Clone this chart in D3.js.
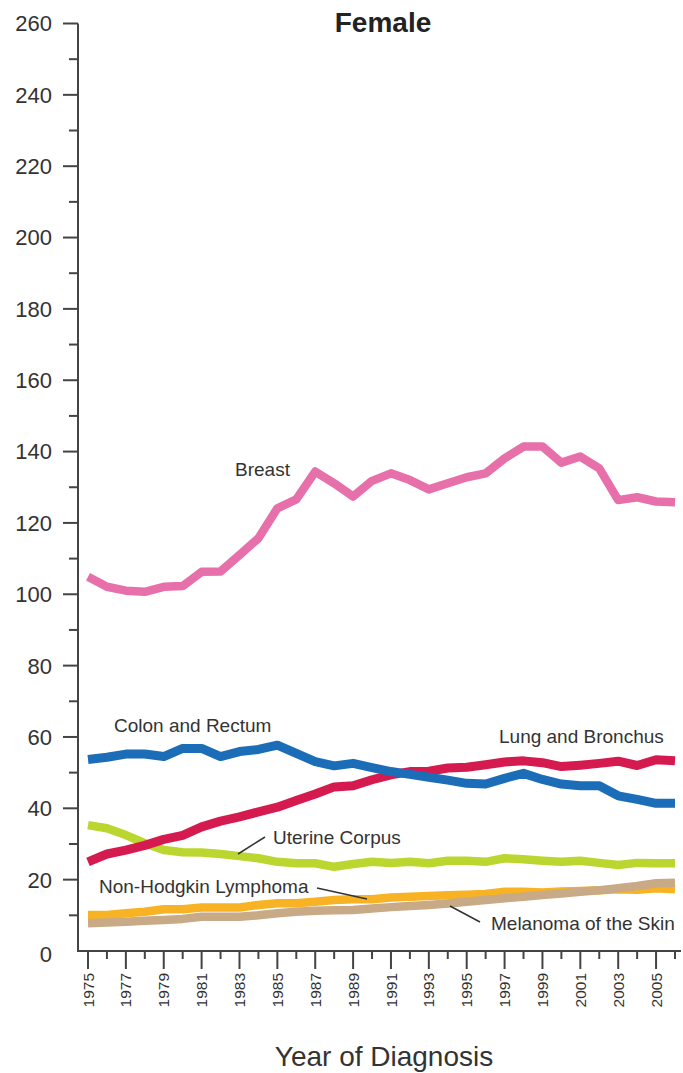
<!DOCTYPE html>
<html>
<head>
<meta charset="utf-8">
<script src="https://cdn.jsdelivr.net/npm/d3@7"></script>
<style>
  html, body { margin: 0; padding: 0; background: #fff; }
  svg { display: block; font-family: "Liberation Sans", Arial, Helvetica, sans-serif; }
</style>
</head>
<body>
<svg id="chart" width="683" height="1073"></svg>
<script>
// Incidence rates per 100,000, females, by year of diagnosis
const years = d3.range(1975, 2007);

const breast = [104.9, 102.1, 101.0, 100.7, 102.1, 102.3, 106.3, 106.4, 111.0, 115.7, 124.1, 126.6, 134.4, 131.1, 127.4, 131.8,
                133.9, 132.0, 129.4, 131.1, 132.8, 133.9, 138.1, 141.4, 141.4, 136.9, 138.6, 135.3, 126.4, 127.2, 126.0, 125.8];
const colonRectum = [53.7, 54.3, 55.2, 55.2, 54.5, 56.8, 56.8, 54.5, 55.9, 56.5, 57.7, 55.4, 53.1, 51.9, 52.6, 51.4,
                     50.3, 49.5, 48.7, 47.9, 47.0, 46.8, 48.4, 49.8, 48.1, 46.8, 46.3, 46.3, 43.5, 42.5, 41.4, 41.4];
const lungBronchus = [25.0, 27.2, 28.3, 29.6, 31.3, 32.4, 34.8, 36.4, 37.6, 39.0, 40.3, 42.2, 44.0, 46.0, 46.3, 48.0,
                      49.4, 50.3, 50.4, 51.3, 51.5, 52.2, 53.0, 53.3, 52.8, 51.7, 52.1, 52.6, 53.2, 52.0, 53.6, 53.3];
const uterineCorpus = [35.3, 34.4, 32.5, 30.2, 28.3, 27.7, 27.6, 27.2, 26.6, 26.0, 25.0, 24.6, 24.6, 23.6, 24.4, 25.0,
                       24.7, 25.0, 24.6, 25.3, 25.3, 25.0, 26.0, 25.7, 25.3, 25.0, 25.3, 24.7, 24.1, 24.7, 24.6, 24.6];
const nhLymphoma = [10.1, 10.1, 10.6, 11.0, 11.7, 11.7, 12.2, 12.2, 12.2, 12.9, 13.4, 13.4, 13.8, 14.3, 14.5, 14.5,
                    15.0, 15.2, 15.4, 15.6, 15.8, 16.0, 16.6, 16.6, 16.4, 16.7, 16.8, 17.0, 17.3, 17.2, 17.6, 17.3];
const melanoma = [7.8, 8.0, 8.2, 8.5, 8.7, 9.0, 9.6, 9.6, 9.6, 10.0, 10.6, 11.0, 11.3, 11.4, 11.5, 11.9,
                  12.3, 12.6, 12.9, 13.3, 13.8, 14.3, 14.8, 15.2, 15.7, 16.1, 16.6, 17.0, 17.6, 18.2, 19.0, 19.1];

const yTickValues = d3.range(0, 261, 20);
const yMinorValues = d3.range(10, 261, 20);
const xLabelYears = years.filter(y => y % 2 === 1);

const series = [
  { name: "Uterine Corpus", values: uterineCorpus, color: "#bcd630", width: 8.5 },
  { name: "Non-Hodgkin Lymphoma", values: nhLymphoma, color: "#f7b324", width: 8.5 },
  { name: "Melanoma of the Skin", values: melanoma, color: "#c8aa86", width: 8.5 },
  { name: "Breast", values: breast, color: "#e870aa", width: 8.5 },
  { name: "Lung and Bronchus", values: lungBronchus, color: "#d51a50", width: 9 },
  { name: "Colon and Rectum", values: colonRectum, color: "#1c6db7", width: 9 }
];

const svg = d3.select("#chart");
const axisColor = "#444";
const textColor = "#333";

const x = d3.scaleLinear().domain([1975, 2006]).range([88, 675]);
const y = d3.scaleLinear().domain([0, 260]).range([951, 23.5]);
const axisLeftX = 78;

// Title
svg.append("text")
  .attr("x", 383).attr("y", 32)
  .attr("text-anchor", "middle")
  .attr("font-size", 28).attr("font-weight", "bold")
  .attr("fill", "#222")
  .text("Female");

// Y axis
const yAxis = svg.append("g").attr("transform", `translate(${axisLeftX},0)`);
yAxis.append("line")
  .attr("x1", 0).attr("x2", 0)
  .attr("y1", y(260)).attr("y2", y(0))
  .attr("stroke", axisColor).attr("stroke-width", 2);
yAxis.selectAll("line.major").data(yTickValues.filter(v => v > 0)).join("line")
  .attr("class", "major")
  .attr("x1", -15).attr("x2", 0)
  .attr("y1", d => y(d)).attr("y2", d => y(d))
  .attr("stroke", axisColor).attr("stroke-width", 2);
yAxis.selectAll("line.minor").data(yMinorValues).join("line")
  .attr("class", "minor")
  .attr("x1", -9).attr("x2", 0)
  .attr("y1", d => y(d)).attr("y2", d => y(d))
  .attr("stroke", axisColor).attr("stroke-width", 2);
yAxis.selectAll("text").data(yTickValues).join("text")
  .attr("x", -26)
  .attr("y", d => y(d) + (d === 0 ? 3 : 0))
  .attr("dy", "0.36em")
  .attr("text-anchor", "end")
  .attr("font-size", 22)
  .attr("fill", textColor)
  .text(d => d);

// X axis
const xAxis = svg.append("g");
xAxis.append("line")
  .attr("x1", axisLeftX - 1).attr("x2", 681)
  .attr("y1", y(0)).attr("y2", y(0))
  .attr("stroke", axisColor).attr("stroke-width", 2);
xAxis.selectAll("line.tick").data(years).join("line")
  .attr("class", "tick")
  .attr("x1", d => x(d)).attr("x2", d => x(d))
  .attr("y1", y(0))
  .attr("y2", d => y(0) + (d % 2 === 1 ? 18 : 8))
  .attr("stroke", axisColor).attr("stroke-width", 2);
xAxis.selectAll("text").data(xLabelYears).join("text")
  .attr("transform", d => `translate(${x(d)},973) rotate(-90)`)
  .attr("dy", "0.36em")
  .attr("text-anchor", "end")
  .attr("font-size", 15.5)
  .attr("fill", textColor)
  .text(d => d);

svg.append("text")
  .attr("x", 384).attr("y", 1066)
  .attr("text-anchor", "middle")
  .attr("font-size", 28)
  .attr("fill", textColor)
  .text("Year of Diagnosis");

// Trend lines
const line = d3.line()
  .x((d, i) => x(years[i]))
  .y(d => y(d));

svg.append("g").selectAll("path").data(series).join("path")
  .attr("d", d => line(d.values))
  .attr("fill", "none")
  .attr("stroke", d => d.color)
  .attr("stroke-width", d => d.width)
  .attr("stroke-linejoin", "round");

// Series labels and leader lines
const labels = [
  { text: "Breast", x: 235, y: 476 },
  { text: "Colon and Rectum", x: 114, y: 732 },
  { text: "Lung and Bronchus", x: 499, y: 743 },
  { text: "Uterine Corpus", x: 273, y: 844 },
  { text: "Non-Hodgkin Lymphoma", x: 99, y: 893 },
  { text: "Melanoma of the Skin", x: 491, y: 930 }
];
svg.append("g").selectAll("text").data(labels).join("text")
  .attr("x", d => d.x).attr("y", d => d.y)
  .attr("font-size", 19)
  .attr("fill", textColor)
  .text(d => d.text);

const leaders = [
  [[238, 854], [265, 837]],
  [[317, 888], [367, 899]],
  [[450, 906], [480, 922]]
];
svg.append("g").selectAll("line").data(leaders).join("line")
  .attr("x1", d => d[0][0]).attr("y1", d => d[0][1])
  .attr("x2", d => d[1][0]).attr("y2", d => d[1][1])
  .attr("stroke", "#333").attr("stroke-width", 1.5);
</script>
</body>
</html>
